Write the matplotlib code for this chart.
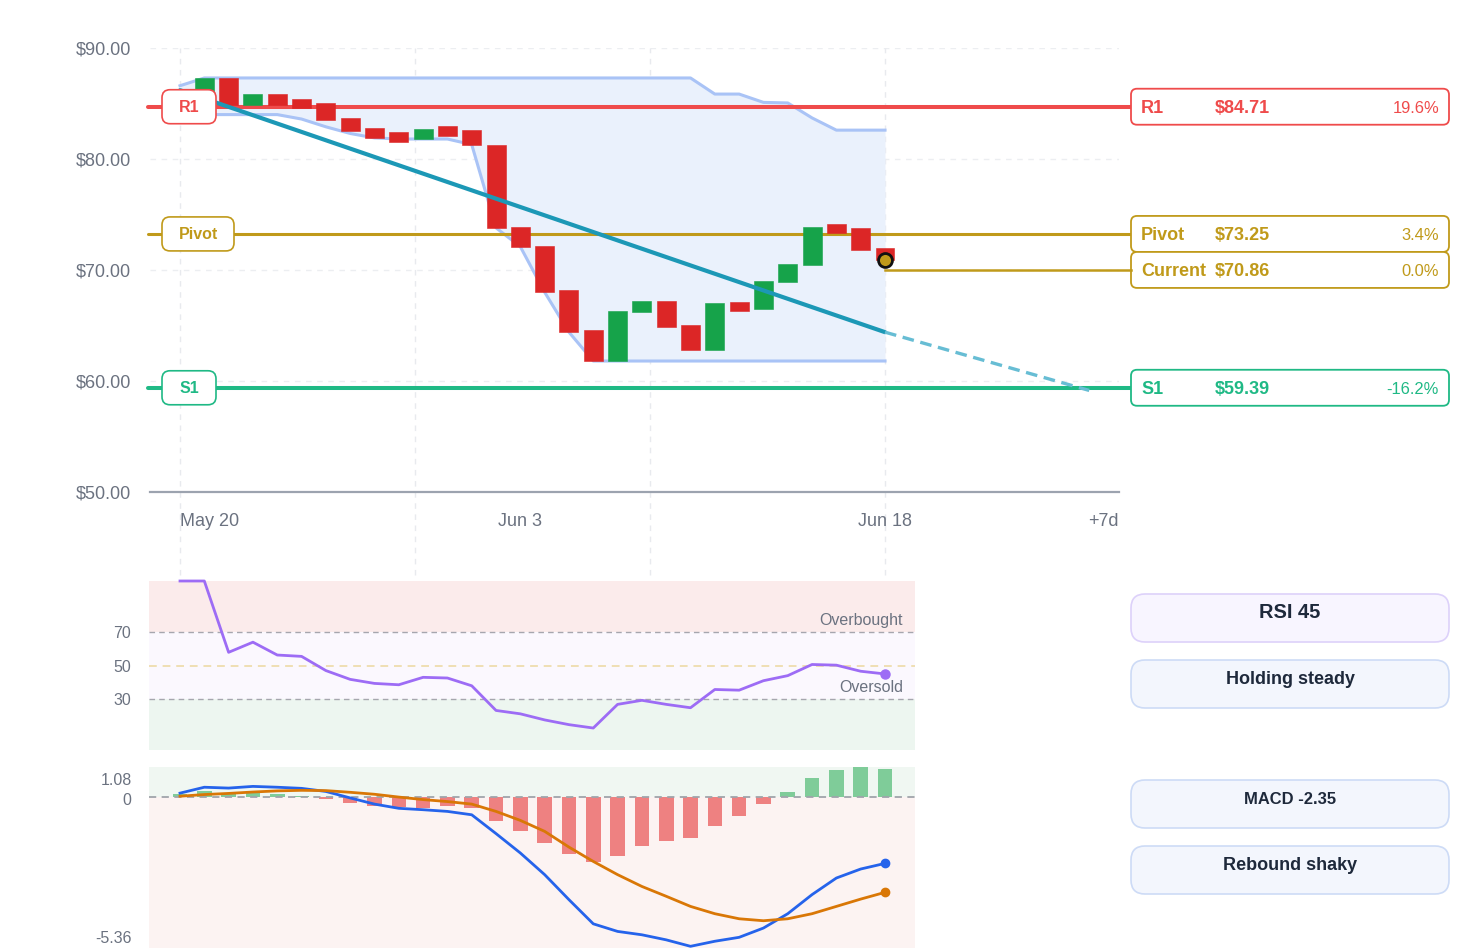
import numpy as np
import matplotlib
matplotlib.use("Agg")
import matplotlib.pyplot as plt
from matplotlib.patches import FancyBboxPatch

plt.rcParams['font.family'] = ['Liberation Sans', 'DejaVu Sans']

# ---------------- data ----------------
dates = ["May 20", "May 21", "May 22", "May 23", "May 24", "May 25", "May 26", "May 27",
         "May 28", "May 29", "May 30", "May 31", "Jun 1", "Jun 2", "Jun 3", "Jun 4",
         "Jun 5", "Jun 6", "Jun 7", "Jun 8", "Jun 9", "Jun 10", "Jun 11", "Jun 12",
         "Jun 13", "Jun 14", "Jun 15", "Jun 16", "Jun 17", "Jun 18"]
opens = [84.3, 85.8, 87.3, 84.9, 85.9, 85.4, 85.0, 83.7, 82.75, 82.4,
         81.8, 83.0, 82.6, 81.3, 73.9, 72.2, 68.2, 64.55, 61.8, 66.2,
         67.2, 65.05, 62.75, 67.15, 66.5, 68.9, 70.45, 74.15, 73.75, 71.95]
closes = [85.9, 87.3, 84.9, 85.9, 84.9, 84.55, 83.5, 82.5, 81.9, 81.5,
          82.7, 82.1, 81.25, 73.8, 72.1, 68.0, 64.4, 61.8, 66.3, 67.2,
          64.9, 62.75, 67.05, 66.35, 69.05, 70.55, 73.9, 73.35, 71.8, 70.86]
band_upper = [86.6, 87.3, 87.3, 87.3, 87.3, 87.3, 87.3, 87.3, 87.3, 87.3,
              87.3, 87.3, 87.3, 87.3, 87.3, 87.3, 87.3, 87.3, 87.3, 87.3,
              87.3, 87.3, 85.85, 85.85, 85.1, 85.05, 83.7, 82.6, 82.6, 82.6]
band_lower = [84.0, 84.0, 84.0, 84.0, 84.0, 83.6, 82.9, 82.3, 81.9, 81.8,
              81.8, 81.8, 81.3, 73.8, 72.1, 68.0, 64.4, 61.8, 61.8, 61.8,
              61.8, 61.8, 61.8, 61.8, 61.8, 61.8, 61.8, 61.8, 61.8, 61.8]
trend_x = [0, 29]
trend_y = [86.2, 64.4]
proj_x = [29, 37.4]
proj_y = [64.4, 59.15]

level_names = ["R1", "Pivot", "S1"]
level_values = [84.71, 73.25, 59.39]
level_colors = ["#ef4b4b", "#c09a1a", "#1fb985"]
current_price = 70.856

price_ticks = [50, 60, 70, 80, 90]
xtick_idx = [0, 14, 29]
proj_label = "+7d"

rsi = [100, 100, 57.8, 63.8, 56.2, 55.4, 47.0, 41.8, 39.4, 38.6,
       43.0, 42.6, 38.0, 23.4, 21.4, 17.8, 15.0, 13.0, 27.0, 29.4,
       27.0, 25.0, 35.8, 35.4, 41.0, 44.0, 50.6, 50.2, 46.6, 45.0]
rsi_ticks = [30, 50, 70]

macd = [0.15, 0.36, 0.33, 0.39, 0.36, 0.32, 0.21, -0.02, -0.24, -0.39,
        -0.44, -0.50, -0.62, -1.29, -1.98, -2.75, -3.64, -4.50, -4.77, -4.89,
        -5.07, -5.30, -5.12, -4.98, -4.65, -4.14, -3.46, -2.87, -2.55, -2.35]
signal = [0.04, 0.10, 0.14, 0.19, 0.23, 0.25, 0.24, 0.18, 0.11, 0.01,
          -0.08, -0.15, -0.24, -0.50, -0.82, -1.21, -1.77, -2.28, -2.75, -3.17,
          -3.52, -3.88, -4.14, -4.32, -4.39, -4.32, -4.14, -3.88, -3.62, -3.38]
hist = [0.12, 0.24, 0.15, 0.15, 0.11, 0.06, -0.06, -0.20, -0.32, -0.34,
        -0.38, -0.32, -0.38, -0.85, -1.21, -1.63, -2.02, -2.31, -2.08, -1.74,
        -1.54, -1.45, -1.01, -0.68, -0.24, 0.19, 0.69, 0.98, 1.07, 1.01]
macd_range = [-5.36, 1.08]

rsi_note = "Holding steady"
macd_note = "Rebound shaky"

# ---------------- layout helpers ----------------
W, H = 1461, 948
fig = plt.figure(figsize=(W / 100, H / 100), dpi=100)
fig.patch.set_facecolor("white")

X0_PX, XSTEP = 180, 705 / 29
P_TOP, P_BOT = 48, 492


def ax_rect(x0, y0, x1, y1):
    return [x0 / W, 1 - y1 / H, (x1 - x0) / W, (y1 - y0) / H]


def xd(px):
    return (px - X0_PX) / XSTEP


def xpx(d):
    return X0_PX + d * XSTEP


def ypx(p):
    return P_BOT - (p - 50) * (P_BOT - P_TOP) / 40


def pt(px):
    return px * 0.72


GRAY = "#6b7280"
idx = np.arange(len(dates))

# ---------------- main price axes ----------------
ax = fig.add_axes(ax_rect(150, P_TOP, 1119, P_BOT))
ax.set_xlim(xd(150), xd(1119))
ax.set_ylim(50, 90)
for s in ["top", "right", "left"]:
    ax.spines[s].set_visible(False)
ax.spines["bottom"].set_color("#9ca3af")
ax.spines["bottom"].set_linewidth(1.6)
ax.set_yticks(price_ticks)
ax.set_yticklabels([f"${v:.2f}" for v in price_ticks])
ax.tick_params(axis="y", length=0, pad=pt(19), labelsize=pt(18), labelcolor=GRAY)
ax.set_xticks([])

for v in price_ticks[1:]:
    ax.axhline(v, color="#eceef1", lw=1, ls=(0, (4, 4)), zorder=0)
for d in np.linspace(0, 29, 4):
    ax.axvline(d, ymin=(P_BOT - 575) / (P_BOT - P_TOP), ymax=1, color="#e8eaee",
               lw=1, ls=(0, (4, 4)), zorder=0, clip_on=False)

ax.fill_between(idx, band_lower, band_upper, color="#eaf1fc", zorder=1, lw=0)
ax.plot(idx, band_upper, color="#a9c3f6", lw=2.2, zorder=1.5)
ax.plot(idx, band_lower, color="#a9c3f6", lw=2.2, zorder=1.5)

for name, val, col in zip(level_names, level_values, level_colors):
    lw = 2.2 if name == "Pivot" else 2.9
    ax.plot([xd(148), xd(1131)], [val, val], color=col, lw=lw, zorder=2,
            clip_on=False, solid_capstyle="round")

for i, (o, c) in enumerate(zip(opens, closes)):
    col = "#16a34a" if c >= o else "#dc2626"
    ax.bar(i, abs(c - o), bottom=min(o, c), width=0.78, color=col,
           edgecolor=col, lw=0.4, zorder=3)

ax.plot(trend_x, trend_y, color="#1c98b6", lw=3.0, zorder=4, solid_capstyle="round")
ax.plot(proj_x, proj_y, color="#67bdd4", lw=2.4, ls=(0, (3.5, 2)), zorder=4,
        clip_on=False)
ax.plot(idx[-1], closes[-1], "o", ms=10, mfc="#c09a1a", mec="#111111", mew=2,
        zorder=6, clip_on=False)

# ---------------- RSI axes ----------------
axr = fig.add_axes(ax_rect(149, 581, 915, 750))
axr.set_xlim(xd(149), xd(915))
axr.set_ylim(0, 100)
for s in axr.spines.values():
    s.set_visible(False)
axr.axhspan(70, 100, color="#fbebeb", lw=0, zorder=0)
axr.axhspan(30, 70, color="#fbf8fe", lw=0, zorder=0)
axr.axhspan(0, 30, color="#edf6f0", lw=0, zorder=0)
axr.axhline(70, color="#a6a6ae", lw=1, ls=(0, (4, 3)), zorder=1)
axr.axhline(30, color="#a6a6ae", lw=1, ls=(0, (4, 3)), zorder=1)
axr.axhline(50, color="#efdfb3", lw=1.4, ls=(0, (4, 3)), zorder=1)
axr.plot(idx, rsi, color="#9d6cf5", lw=2.0, zorder=3, clip_on=False,
         solid_joinstyle="round")
axr.plot(idx[-1], rsi[-1], "o", ms=6.5, color="#9d6cf5", zorder=4)
axr.set_xticks([])
axr.set_yticks(rsi_ticks)
axr.set_yticklabels([str(v) for v in rsi_ticks])
axr.tick_params(axis="y", length=0, pad=pt(18), labelsize=pt(16), labelcolor=GRAY)

# ---------------- MACD axes ----------------
axm = fig.add_axes(ax_rect(149, 767, 915, 948))
axm.set_xlim(xd(149), xd(915))
axm.set_ylim(macd_range[0], macd_range[1])
for s in axm.spines.values():
    s.set_visible(False)
axm.axhspan(0, macd_range[1], color="#f0f7f2", lw=0, zorder=0)
axm.axhspan(macd_range[0], 0, color="#fcf3f2", lw=0, zorder=0)
hcols = ["#7fcc99" if h >= 0 else "#ee8181" for h in hist]
axm.bar(idx, hist, width=0.6, color=hcols, zorder=1)
axm.axhline(0, color="#a0a4ab", lw=1.3, ls=(0, (4, 3)), zorder=2)
axm.plot(idx, macd, color="#2563eb", lw=2.0, zorder=3)
axm.plot(idx, signal, color="#d97706", lw=2.0, zorder=3)
axm.plot(idx[-1], macd[-1], "o", ms=6, color="#2563eb", zorder=4)
axm.plot(idx[-1], signal[-1], "o", ms=6, color="#d97706", zorder=4)
axm.set_xticks([])
axm.set_yticks([])

# ---------------- overlay (pixel coordinates) ----------------
ov = fig.add_axes([0, 0, 1, 1])
ov.set_xlim(0, W)
ov.set_ylim(H, 0)
ov.axis("off")
ov.set_zorder(10)
ov.patch.set_alpha(0)


def rbox(x0, y0, x1, y1, fc, ec, r, lw=1.2):
    ov.add_patch(FancyBboxPatch((x0, y0), x1 - x0, y1 - y0,
                                boxstyle=f"round,pad=0,rounding_size={r}",
                                fc=fc, ec=ec, lw=lw))


# x labels
xl_y = 522
ov.text(xpx(xtick_idx[0]), xl_y, dates[xtick_idx[0]], ha="left", va="center",
        fontsize=pt(18), color=GRAY)
for i in xtick_idx[1:]:
    ov.text(xpx(i), xl_y, dates[i], ha="center", va="center", fontsize=pt(18), color=GRAY)
ov.text(1119, xl_y, proj_label, ha="right", va="center", fontsize=pt(18), color=GRAY)

# left level tags
left_w = {"R1": 54, "Pivot": 72, "S1": 54}
for name, val, col in zip(level_names, level_values, level_colors):
    cy = ypx(val)
    rbox(162, cy - 17, 162 + left_w[name], cy + 17, "white", col, 8)
    ov.text(162 + left_w[name] / 2, cy + 1, name, ha="center", va="center",
            fontsize=pt(16), fontweight="bold", color=col)

# right level boxes
centers = {}
for name, val in zip(level_names, level_values):
    centers[name] = ypx(val)
cur_center = max(ypx(current_price), centers["Pivot"] + 36)
right_items = [(n, v, c, centers[n]) for n, v, c in zip(level_names, level_values, level_colors)]
right_items.insert(2, ("Current", current_price, "#c09a1a", cur_center))
for name, val, col, cy in right_items:
    rbox(1131, cy - 18, 1449, cy + 18, "white", col, 6, lw=1.3)
    pct = (val - current_price) / current_price * 100
    ov.text(1141, cy + 1.5, name, ha="left", va="center", fontsize=pt(18),
            fontweight="bold", color=col)
    ov.text(1215, cy + 1.5, f"${val:.2f}", ha="left", va="center", fontsize=pt(18),
            fontweight="bold", color=col)
    ov.text(1439, cy + 1.5, f"{pct:.1f}%", ha="right", va="center", fontsize=pt(16.5),
            color=col)
ov.plot([xpx(idx[-1]), 1131], [cur_center, cur_center], color="#c09a1a", lw=1.8,
        zorder=1)

# RSI annotations
ov.text(903, 621, "Overbought", ha="right", va="center", fontsize=pt(16), color=GRAY)
ov.text(903, 688, "Oversold", ha="right", va="center", fontsize=pt(16), color=GRAY)

# MACD tick labels
ov.text(131.5, 780.7, f"{macd_range[1]:.2f}", ha="right", va="center", fontsize=pt(16), color=GRAY)
ov.text(131.5, 800.7, "0", ha="right", va="center", fontsize=pt(16), color=GRAY)
ov.text(131.5, 938.3, f"{macd_range[0]:.2f}", ha="right", va="center", fontsize=pt(16), color=GRAY)

# indicator boxes
DARK = "#1e293b"
rbox(1131, 594, 1449, 642, "#f8f5ff", "#ddd1fa", 14)
ov.text(1290, 612.5, f"RSI {rsi[-1]:.0f}", ha="center", va="center",
        fontsize=pt(20), fontweight="bold", color=DARK)
rbox(1131, 660, 1449, 708, "#f3f6fd", "#cddbf6", 14)
ov.text(1290, 679, rsi_note, ha="center", va="center", fontsize=pt(18),
        fontweight="bold", color=DARK)
rbox(1131, 780, 1449, 828, "#f3f6fd", "#cddbf6", 14)
ov.text(1290, 799, f"MACD {macd[-1]:.2f}", ha="center", va="center",
        fontsize=pt(16.5), fontweight="bold", color=DARK)
rbox(1131, 846, 1449, 894, "#f3f6fd", "#cddbf6", 14)
ov.text(1290, 865, macd_note, ha="center", va="center", fontsize=pt(18),
        fontweight="bold", color=DARK)

fig.savefig("out.png", dpi=100, facecolor="white")
